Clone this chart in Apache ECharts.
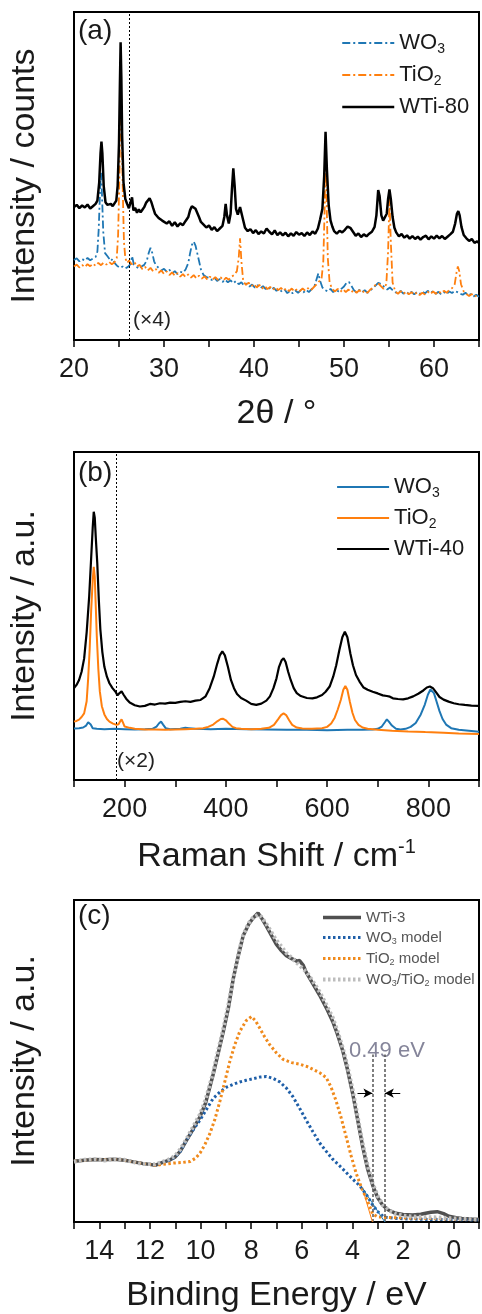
<!DOCTYPE html>
<html><head><meta charset="utf-8">
<script src="https://cdn.jsdelivr.net/npm/echarts@6/dist/echarts.min.js"></script>
<style>html,body{margin:0;padding:0;background:#fff}#c{width:482px;height:1314px}</style>
</head><body><div id="c"></div>
<script>
// ---------- Panel (a): XRD, 2θ (deg) vs intensity (a.u., offset) ----------
const xrdWTi80 = [[20.0,40.5],[20.3,41.2],[20.6,40.2],[20.9,41.0],[21.2,40.4],[21.5,41.3],[21.8,40.1],[22.1,40.8],[22.4,41.5],[22.6,42.5],[22.8,48],[22.95,57],[23.05,60.5],[23.15,57],[23.3,47],[23.5,42],[23.7,41.2],[23.9,40.6],[24.1,41.5],[24.3,40.8],[24.5,41.4],[24.7,42.5],[24.85,47],[25.0,60],[25.1,78],[25.18,90.8],[25.26,80],[25.35,62],[25.5,48],[25.7,43],[25.9,41.5],[26.1,40.2],[26.3,39.8],[26.45,43.5],[26.6,39.5],[26.8,40.3],[27.0,38.8],[27.2,39.8],[27.4,38.9],[27.6,39.7],[27.8,40.5],[28.0,41.8],[28.2,42.2],[28.4,43.2],[28.6,42.0],[28.8,40.2],[29.0,38.5],[29.2,38.9],[29.4,37.2],[29.6,37.8],[29.8,36.4],[30.0,36.9],[30.3,35.5],[30.6,36.2],[30.9,34.8],[31.2,35.9],[31.5,34.6],[31.8,35.6],[32.1,35.0],[32.4,36.3],[32.7,37.5],[32.9,39.6],[33.1,40.8],[33.3,41.2],[33.5,40.0],[33.7,39.5],[33.9,37.4],[34.1,36.0],[34.4,35.2],[34.7,34.3],[35.0,34.9],[35.3,33.6],[35.6,34.4],[35.9,33.2],[36.2,34.0],[36.5,34.8],[36.7,37.5],[36.85,41.5],[37.0,38],[37.2,35.5],[37.4,38.5],[37.55,46],[37.7,52.3],[37.85,47],[38.0,40],[38.2,38.2],[38.45,40.5],[38.6,40.2],[38.8,36.5],[39.0,34.2],[39.3,33.2],[39.6,33.8],[39.9,32.6],[40.2,33.5],[40.5,32.3],[40.8,33.1],[41.1,32.5],[41.4,34.0],[41.7,33.0],[42.0,32.2],[42.3,33.4],[42.6,32.0],[42.9,32.8],[43.2,31.9],[43.5,32.7],[43.8,31.6],[44.1,32.5],[44.4,31.8],[44.7,32.9],[45.0,32.1],[45.3,32.6],[45.6,31.7],[45.9,32.8],[46.2,32.0],[46.5,33.1],[46.8,32.4],[47.1,34.0],[47.35,36.8],[47.6,40],[47.8,50],[47.95,63.5],[48.1,52],[48.3,41],[48.5,36.5],[48.7,34.6],[48.9,33.2],[49.2,32.4],[49.5,33.3],[49.8,32.8],[50.1,33.6],[50.4,34.6],[50.7,34.2],[51.0,33.0],[51.3,31.8],[51.6,32.5],[51.9,31.4],[52.2,32.2],[52.5,31.6],[52.8,32.4],[53.1,33.0],[53.4,34.5],[53.6,38],[53.8,45.7],[53.95,44],[54.15,38],[54.35,36.4],[54.55,36.0],[54.75,38.5],[54.9,43],[55.05,45.9],[55.2,43],[55.4,37.5],[55.6,34.2],[55.8,32.8],[56.1,31.6],[56.4,32.3],[56.7,31.2],[57.0,31.9],[57.3,30.9],[57.6,31.7],[57.9,30.8],[58.2,31.5],[58.5,30.6],[58.8,31.4],[59.1,31.8],[59.4,30.7],[59.7,31.6],[60.0,30.9],[60.3,31.8],[60.6,31.0],[60.9,31.7],[61.2,30.8],[61.5,31.5],[61.8,32.2],[62.1,33.0],[62.35,35.5],[62.55,38.5],[62.7,39.3],[62.85,38.0],[63.05,34.5],[63.3,32.0],[63.6,31.0],[63.9,30.2],[64.2,30.8],[64.5,29.6],[64.8,30.1],[65.0,29.5]];
const xrdWO3 = [[20.0,24.4],[20.3,24.9],[20.6,24.0],[20.9,24.7],[21.2,24.2],[21.5,25.0],[21.8,24.3],[22.1,24.8],[22.4,25.3],[22.6,27],[22.75,34],[22.9,46],[23.0,51],[23.1,45],[23.25,33],[23.45,26.5],[23.7,25.6],[23.9,25.0],[24.1,24.1],[24.3,24.8],[24.5,23.5],[24.8,22.6],[25.1,22.0],[25.4,22.4],[25.7,21.8],[26.0,22.3],[26.3,23.2],[26.45,25.6],[26.65,23.0],[26.9,22.5],[27.2,21.7],[27.5,22.4],[27.8,22.9],[28.1,24.3],[28.3,26.5],[28.5,28.1],[28.7,26.5],[28.9,24.0],[29.1,22.8],[29.4,22.0],[29.7,21.2],[30.0,21.7],[30.3,20.8],[30.6,21.4],[30.9,20.3],[31.2,21.0],[31.5,20.1],[31.8,20.8],[32.1,20.5],[32.4,21.5],[32.7,23.5],[32.9,26.5],[33.1,29.0],[33.3,30.0],[33.5,28.8],[33.7,26.4],[33.9,24.0],[34.1,21.5],[34.4,19.8],[34.7,19.2],[35.0,19.0],[35.3,18.3],[35.6,19.0],[35.9,18.0],[36.2,18.6],[36.5,17.7],[36.8,18.4],[37.1,17.6],[37.4,18.2],[37.7,17.3],[38.0,18.0],[38.3,17.0],[38.6,17.6],[38.9,16.6],[39.2,17.2],[39.5,16.3],[39.8,16.9],[40.1,16.0],[40.4,16.7],[40.7,15.8],[41.0,16.4],[41.3,15.5],[41.6,16.2],[41.9,15.3],[42.2,15.9],[42.5,15.0],[42.8,15.6],[43.1,14.7],[43.4,15.4],[43.7,14.3],[44.0,15.0],[44.3,14.2],[44.6,15.1],[44.9,14.4],[45.2,15.2],[45.5,14.5],[45.8,15.3],[46.1,14.6],[46.4,15.5],[46.7,16.2],[46.95,18.5],[47.15,20.3],[47.35,18.0],[47.6,16.0],[47.9,15.2],[48.2,14.8],[48.5,15.6],[48.8,14.6],[49.1,15.4],[49.4,14.8],[49.7,15.6],[50.0,16.3],[50.3,17.5],[50.55,17.7],[50.8,16.6],[51.1,15.2],[51.4,14.5],[51.7,15.3],[52.0,14.6],[52.3,15.2],[52.6,14.4],[52.9,15.1],[53.2,15.8],[53.5,16.6],[53.8,17.4],[54.0,17.9],[54.2,17.0],[54.5,16.0],[54.8,15.4],[55.1,16.0],[55.4,15.2],[55.7,14.6],[56.0,14.2],[56.3,15.0],[56.6,14.1],[56.9,14.8],[57.2,14.0],[57.5,14.7],[57.8,13.9],[58.1,14.6],[58.4,14.0],[58.7,14.8],[59.0,14.2],[59.3,15.0],[59.6,14.3],[59.9,14.9],[60.2,14.1],[60.5,14.7],[60.8,13.9],[61.1,14.6],[61.4,14.0],[61.7,14.8],[62.0,14.3],[62.3,15.0],[62.6,14.6],[62.9,14.1],[63.2,13.8],[63.5,14.4],[63.8,13.6],[64.1,14.0],[64.4,13.3],[64.7,13.8],[65.0,13.2]];
const xrdTiO2 = [[20.0,22.4],[20.3,23.0],[20.6,22.1],[20.9,22.9],[21.2,22.2],[21.5,23.1],[21.8,22.5],[22.1,23.3],[22.4,22.6],[22.7,23.5],[23.0,22.8],[23.3,23.6],[23.6,23.0],[23.9,23.8],[24.2,23.1],[24.5,23.7],[24.75,25],[24.9,32],[25.05,50],[25.15,68],[25.22,76],[25.3,66],[25.4,48],[25.55,30],[25.7,25],[25.9,23.5],[26.1,24.2],[26.4,23.1],[26.7,23.8],[27.0,22.4],[27.3,22.9],[27.6,21.6],[27.9,22.3],[28.2,21.2],[28.5,22.0],[28.8,20.9],[29.1,21.6],[29.4,20.5],[29.7,21.2],[30.0,20.1],[30.3,20.9],[30.6,19.8],[30.9,20.6],[31.2,19.6],[31.5,20.4],[31.8,19.3],[32.1,20.1],[32.4,19.2],[32.7,20.0],[33.0,19.0],[33.3,19.8],[33.6,18.8],[33.9,19.6],[34.2,18.7],[34.5,19.4],[34.8,18.5],[35.1,19.3],[35.4,18.4],[35.7,19.2],[36.0,18.3],[36.3,19.1],[36.6,18.2],[36.9,19.0],[37.2,18.4],[37.5,19.3],[37.8,19.8],[38.1,21.0],[38.3,25],[38.45,31],[38.6,24],[38.8,18.0],[39.1,16.8],[39.4,17.5],[39.7,16.4],[40.0,17.1],[40.3,16.0],[40.6,16.8],[40.9,15.7],[41.2,16.5],[41.5,15.5],[41.8,16.2],[42.1,15.3],[42.4,16.1],[42.7,15.2],[43.0,15.9],[43.3,15.0],[43.6,15.8],[43.9,14.9],[44.2,15.7],[44.5,14.8],[44.8,15.6],[45.1,14.9],[45.4,15.7],[45.7,15.0],[46.0,15.8],[46.3,15.1],[46.6,16.0],[46.9,16.8],[47.2,17.8],[47.5,18.5],[47.7,24],[47.85,40],[47.95,56],[48.05,45],[48.2,25],[48.4,17.5],[48.7,15.5],[49.0,14.8],[49.3,15.6],[49.6,14.7],[49.9,15.5],[50.2,14.6],[50.5,15.4],[50.8,14.5],[51.1,15.3],[51.4,14.4],[51.7,15.2],[52.0,14.3],[52.3,15.1],[52.6,14.4],[52.9,15.3],[53.2,15.9],[53.5,16.8],[53.8,17.3],[54.1,16.4],[54.4,15.6],[54.7,17.0],[54.9,27],[55.05,43],[55.2,30],[55.4,17.5],[55.7,14.8],[56.0,14.1],[56.3,14.9],[56.6,14.0],[56.9,14.8],[57.2,13.9],[57.5,14.6],[57.8,13.8],[58.1,14.5],[58.4,13.7],[58.7,14.4],[59.0,13.9],[59.3,14.7],[59.6,14.0],[59.9,14.8],[60.2,14.1],[60.5,14.9],[60.8,14.2],[61.1,15.0],[61.4,14.4],[61.7,15.3],[62.0,15.8],[62.3,17.0],[62.5,20.5],[62.65,22.4],[62.8,21],[63.0,17],[63.3,14.8],[63.6,14.0],[63.9,13.4],[64.2,14.0],[64.5,13.2],[64.8,13.7],[65.0,13.4]];
const xrdDivider = 26.15;   // (×4) boundary

// ---------- Panel (b): Raman shift (cm-1) ----------
const ramanWTi40 = [[100,28.0],[105,29.0],[110,30.5],[115,33],[120,37],[125,45],[130,56],[134,68],[137,77],[139,81.8],[141,80],[143,74],[146,66],[149,55],[152,46],[156,39],[160,34.5],[165,31.5],[170,29.5],[176,28],[182,26.9],[186,25.8],[190,26.5],[194,27.0],[198,26],[203,24.8],[210,23.6],[220,22.8],[230,22.4],[240,22.6],[250,23.2],[260,23.0],[270,23.4],[280,23.3],[290,23.6],[300,23.5],[310,23.8],[320,24.0],[330,23.8],[340,24.2],[350,24.4],[360,25.5],[368,28],[376,31.5],[383,35.5],[388,38],[393,39.2],[398,38],[404,34.5],[410,30.5],[416,28],[422,26.2],[430,25],[440,24.2],[450,23.2],[460,22.9],[470,23.3],[480,24.2],[487,25.5],[494,28],[500,31],[505,34.5],[510,36.5],[514,37.1],[518,36],[523,33],[528,30.5],[534,28],[540,26.5],[548,25.6],[560,25.0],[571,24.9],[580,25.2],[590,25.9],[597,26.9],[605,28.5],[612,31.5],[618,35],[624,39.5],[630,43.5],[635,45.2],[640,43.5],[646,38.5],[651,35],[657,32],[664,30],[672,28.2],[680,27.5],[690,26.9],[700,26.4],[710,25.8],[718,25.6],[724,25.4],[730,24.9],[740,24.7],[750,24.6],[760,24.9],[770,25.5],[780,26.3],[790,27.3],[797,28.2],[803,28.5],[809,28.0],[815,26.8],[822,25.3],[830,24.5],[840,23.9],[850,23.4],[860,23.1],[872,22.9],[885,22.7],[900,22.6]];
const ramanTiO2 = [[100,17.8],[105,18.0],[110,18.4],[115,19.2],[120,20.3],[125,24],[128,31],[131,40],[134,52],[137,61],[139,65],[141,62],[143,53],[145,44],[148,34],[151,27],[155,22.5],[160,20],[165,18.6],[170,17.8],[177,17.2],[184,16.8],[188,17.0],[191,17.8],[194,18.5],[197,17.4],[200,16.3],[210,15.9],[220,15.6],[240,15.4],[260,15.4],[280,15.3],[300,15.4],[320,15.5],[340,15.6],[355,15.8],[365,16.2],[375,16.9],[383,17.9],[390,18.6],[394,18.7],[400,18.2],[406,17.2],[413,16.2],[420,15.8],[430,15.6],[450,15.5],[470,15.6],[485,15.9],[495,16.8],[503,18.5],[509,19.8],[514,20.3],[519,19.8],[525,18.2],[531,16.8],[540,16.0],[551,15.7],[570,15.6],[590,15.8],[600,16.2],[608,17.2],[615,19],[621,21.5],[627,24.4],[632,27.5],[636,28.7],[640,27.5],[645,23.8],[650,20.5],[655,18.3],[662,16.8],[670,16.0],[680,15.6],[700,15.3],[728,15.0],[760,14.8],[794,14.6],[830,14.4],[860,14.2],[900,14.0]];
const ramanWO3 = [[100,15.7],[110,15.8],[118,16.0],[124,16.6],[128,17.6],[130,17.8],[133,16.9],[137,15.8],[145,15.6],[160,15.5],[180,15.6],[200,15.5],[220,15.4],[240,15.5],[255,15.6],[263,16.3],[268,17.3],[272,17.8],[276,16.9],[281,15.8],[290,15.5],[310,15.6],[320,15.9],[323,16.2],[327,15.8],[340,15.6],[370,15.5],[400,15.6],[440,15.5],[480,15.4],[520,15.3],[560,15.3],[600,15.2],[640,15.3],[670,15.3],[690,15.4],[700,15.6],[708,16.3],[714,17.6],[718,18.5],[722,17.8],[728,16.6],[736,15.6],[745,15.4],[755,15.6],[765,16.2],[775,17.4],[785,20.0],[793,23.0],[799,26.0],[804,27.6],[807,27.9],[811,26.5],[816,24.0],[822,21.0],[828,18.6],[835,16.9],[845,15.8],[860,15.3],[880,15.0],[900,14.7]];
const ramanDivider = 183;   // (×2) boundary

// ---------- Panel (c): valence band XPS, binding energy (eV) ----------
const vbWTi3 = [[15.0,18.9],[14.6,19.2],[14.2,19.4],[13.8,19.3],[13.4,19.5],[13.0,19.2],[12.6,18.6],[12.3,18.2],[12.0,17.9],[11.8,17.6],[11.5,18.5],[11.2,19.3],[11.0,20.2],[10.8,22.0],[10.54,25.6],[10.3,28.8],[10.02,32.7],[9.8,37.0],[9.5,45.9],[9.3,52.5],[9.1,59.2],[8.9,66.5],[8.71,75.5],[8.5,83.0],[8.32,88.8],[8.1,92.5],[7.92,94.4],[7.73,96.0],[7.6,94.5],[7.4,91.9],[7.2,89.0],[7.01,86.3],[6.8,84.2],[6.61,82.7],[6.4,81.8],[6.2,81.0],[6.09,81.2],[5.95,79.8],[5.83,77.6],[5.6,74.5],[5.3,70.5],[5.0,66.0],[4.78,62.3],[4.6,58.5],[4.38,53.1],[4.2,47.5],[3.99,39.9],[3.8,32.0],[3.6,23.6],[3.4,16.5],[3.2,11.4],[3.0,7.5],[2.81,5.3],[2.6,3.8],[2.29,2.7],[2.0,2.3],[1.63,2.2],[1.3,2.4],[1.11,2.7],[0.9,3.0],[0.65,3.2],[0.4,2.6],[0.19,1.8],[-0.1,1.3],[-0.33,1.1],[-0.7,0.9],[-1.0,0.8]];
const vbWO3Model = [[15.0,18.9],[14.6,19.2],[14.2,19.4],[13.8,19.3],[13.4,19.5],[13.0,19.2],[12.6,18.6],[12.3,18.2],[12.0,17.9],[11.8,17.6],[11.5,18.5],[11.2,19.3],[11.0,20.2],[10.8,22.0],[10.54,25.6],[10.3,28.5],[10.02,31.7],[9.75,35.2],[9.5,38.4],[9.2,40.6],[8.97,41.9],[8.7,42.8],[8.45,43.5],[8.2,44.0],[7.92,44.5],[7.66,45.0],[7.4,45.2],[7.13,44.6],[6.87,43.5],[6.6,41.5],[6.35,38.9],[6.1,35.5],[5.83,31.7],[5.56,28.0],[5.3,24.6],[5.04,22.0],[4.78,19.5],[4.5,17.4],[4.25,15.4],[4.0,13.4],[3.73,11.4],[3.45,8.5],[3.2,5.3],[3.0,3.2],[2.75,1.5],[2.4,1.2],[2.0,1.0],[1.5,0.9],[1.0,0.8],[0.5,0.8],[0.0,0.7],[-0.5,0.7],[-1.0,0.6]];
const vbTiO2Model = [[15.0,18.9],[14.6,19.2],[14.2,19.4],[13.8,19.3],[13.4,19.5],[13.0,19.2],[12.6,18.6],[12.3,18.2],[12.0,17.9],[11.8,17.6],[11.5,17.9],[11.07,18.3],[10.7,18.5],[10.41,18.8],[10.2,19.8],[10.02,21.4],[9.83,24.0],[9.63,27.5],[9.43,32.0],[9.23,37.7],[9.03,44.0],[8.84,50.0],[8.65,55.0],[8.45,59.2],[8.2,62.5],[7.99,63.8],[7.83,62.5],[7.66,60.2],[7.47,57.5],[7.27,55.1],[7.0,52.5],[6.74,50.5],[6.4,49.5],[6.09,49.0],[5.8,48.3],[5.56,47.4],[5.3,46.4],[5.04,44.9],[4.85,42.0],[4.65,37.7],[4.45,32.5],[4.25,26.5],[4.05,20.5],[3.86,15.3],[3.66,11.0],[3.47,7.7],[3.3,4.5],[3.2,2.5],[3.0,1.6],[2.6,1.4],[2.2,1.3],[1.8,1.2],[1.4,1.2],[1.0,1.1],[0.6,1.0],[0.2,0.9],[-0.3,0.8],[-1.0,0.7]];
const vbMixModel = [[15.0,18.7],[14.6,19.3],[14.2,19.5],[13.8,19.1],[13.4,19.6],[13.0,19.3],[12.6,18.5],[12.3,18.0],[12.0,18.0],[11.8,17.9],[11.5,18.7],[11.2,19.6],[11.0,20.6],[10.8,22.6],[10.54,26.0],[10.3,29.5],[10.02,33.5],[9.8,38.0],[9.5,46.5],[9.3,53.5],[9.1,60.0],[8.9,67.5],[8.71,76.0],[8.5,83.5],[8.32,89.0],[8.1,92.8],[7.92,94.6],[7.73,95.4],[7.6,94.8],[7.4,92.5],[7.2,90.0],[7.01,87.5],[6.8,85.5],[6.61,83.5],[6.4,82.0],[6.2,80.5],[6.0,79.0],[5.8,77.5],[5.6,75.2],[5.3,71.5],[5.0,67.0],[4.78,63.5],[4.6,59.5],[4.38,54.0],[4.2,48.5],[3.99,41.0],[3.8,33.0],[3.6,24.5],[3.4,17.5],[3.2,12.0],[3.0,8.0],[2.81,5.5],[2.6,3.8],[2.29,2.5],[2.0,2.0],[1.63,1.7],[1.3,1.6],[1.0,1.5],[0.6,1.4],[0.2,1.2],[-0.3,1.0],[-1.0,0.8]];
const vbWO3Onset = [[3.6,10.5],[2.72,0]];
const vbTiO2Onset = [[3.55,9.0],[3.21,0]];
const vbOnsetWO3 = 2.72, vbOnsetTiO2 = 3.21, vbGapLabel = '0.49 eV';
const vbArrowY = 40, vbGuideTop = 52;

// ---------- Tick labels ----------
const ticksA = [20, 30, 40, 50, 60];
const ticksB = [200, 400, 600, 800];
const ticksC = [14, 12, 10, 8, 6, 4, 2, 0];

const FONT = '"Liberation Sans", Arial, sans-serif';
const BLUE = '#1f77b4', ORANGE = '#ff7f0e';
const legendText = {
  a_wo3: 'WO{s|3}', a_tio2: 'TiO{s|2}', a_wti: 'WTi-80',
  b_wo3: 'WO{s|3}', b_tio2: 'TiO{s|2}', b_wti: 'WTi-40',
  c_wti: 'WTi-3', c_wo3: 'WO{s|3} model', c_tio2: 'TiO{s|2} model', c_mix: 'WO{s|3}/TiO{s|2} model'
};

const chart = echarts.init(document.getElementById('c'), null, {renderer: 'canvas'});

const grids = [
  {left: 73, top: 12, width: 407, height: 328},
  {left: 73, top: 452, width: 407, height: 328},
  {left: 73, top: 900, width: 407, height: 327}
].map(g => Object.assign({show: true, borderColor: '#000', borderWidth: 2, backgroundColor: 'transparent'}, g));

function xAx(idx, min, max, interval, shown, name, gap, extra) {
  return Object.assign({
    type: 'value', gridIndex: idx, min, max, interval,
    axisLine: {show: true, onZero: false, lineStyle: {color: '#000', width: 2}},
    axisTick: {show: true, inside: false, length: 7, lineStyle: {color: '#000', width: 1.5}},
    splitLine: {show: false},
    axisLabel: {fontFamily: FONT, fontSize: 27, color: '#1a1a1a', margin: 16,
      formatter: v => shown.indexOf(v) >= 0 ? String(v) : ''},
    name, nameLocation: 'middle', nameGap: gap,
    nameTextStyle: {fontFamily: FONT, fontSize: 34, color: '#1a1a1a',
      rich: {sup: {fontFamily: FONT, fontSize: 20, color: '#1a1a1a', padding: [0, 0, 20, 0]}}}
  }, extra || {});
}
function yAx(idx, name) {
  return {
    type: 'value', gridIndex: idx, min: 0, max: 100,
    axisLine: {show: false}, axisTick: {show: false}, axisLabel: {show: false}, splitLine: {show: false},
    name, nameLocation: 'middle', nameGap: 32, nameRotate: 90,
    nameTextStyle: {fontFamily: FONT, fontSize: 34, color: '#1a1a1a'}
  };
}

const dashDot = [8, 3, 2, 3];
const divider = (x) => ({silent: true, symbol: 'none', label: {show: false},
  lineStyle: {type: [2, 2], color: '#000', width: 1}, data: [{xAxis: x}]});

function legend(top, left, names, fs, itemW, gap, color, subPad) {
  return {
    orient: 'vertical', top, left, itemWidth: itemW, itemHeight: 12, itemGap: gap,
    selectedMode: false, data: names,
    itemStyle: {opacity: 0, borderWidth: 0},
    lineStyle: {width: 'inherit'},
    formatter: n => legendText[n],
    textStyle: {fontFamily: FONT, fontSize: fs, color,
      rich: {s: {fontFamily: FONT, fontSize: Math.round(fs * 0.62), color, padding: [subPad, 0, 0, 0]}}}
  };
}

const option = {
  animation: false,
  backgroundColor: '#fff',
  grid: grids,
  xAxis: [
    xAx(0, 20, 65, 5, ticksA, '2θ / °', 57),
    xAx(1, 100, 900, 100, ticksB, 'Raman Shift / cm{sup|-1}', 57),
    xAx(2, -1, 15, 1, ticksC, 'Binding Energy / eV', 57, {inverse: true})
  ],
  yAxis: [yAx(0, 'Intensity / counts'), yAx(1, 'Intensity / a.u.'), yAx(2, 'Intensity / a.u.')],
  legend: [
    legend(27, 336, ['a_wo3', 'a_tio2', 'a_wti'], 22, 52, 8, '#1a1a1a', 12),
    legend(471, 331, ['b_wo3', 'b_tio2', 'b_wti'], 22, 52, 7, '#1a1a1a', 12),
    legend(905, 316, ['c_wti', 'c_wo3', 'c_tio2', 'c_mix'], 15, 38, 5, '#555', 8)
  ],
  series: [
    {name: 'a_wo3', type: 'line', xAxisIndex: 0, yAxisIndex: 0, data: xrdWO3, symbol: 'none',
      lineStyle: {color: BLUE, width: 1.8, type: dashDot}, itemStyle: {color: BLUE}, z: 2},
    {name: 'a_tio2', type: 'line', xAxisIndex: 0, yAxisIndex: 0, data: xrdTiO2, symbol: 'none',
      lineStyle: {color: ORANGE, width: 1.8, type: dashDot}, itemStyle: {color: ORANGE}, z: 3},
    {name: 'a_wti', type: 'line', xAxisIndex: 0, yAxisIndex: 0, data: xrdWTi80, symbol: 'none',
      lineStyle: {color: '#000', width: 2.5}, itemStyle: {color: '#000'}, z: 4, markLine: divider(xrdDivider)},

    {name: 'b_wo3', type: 'line', xAxisIndex: 1, yAxisIndex: 1, data: ramanWO3, symbol: 'none',
      lineStyle: {color: BLUE, width: 2}, itemStyle: {color: BLUE}, z: 2},
    {name: 'b_tio2', type: 'line', xAxisIndex: 1, yAxisIndex: 1, data: ramanTiO2, symbol: 'none',
      lineStyle: {color: ORANGE, width: 2}, itemStyle: {color: ORANGE}, z: 3},
    {name: 'b_wti', type: 'line', xAxisIndex: 1, yAxisIndex: 1, data: ramanWTi40, symbol: 'none',
      lineStyle: {color: '#000', width: 2.2}, itemStyle: {color: '#000'}, z: 4, markLine: divider(ramanDivider)},

    {name: 'c_wti', type: 'line', xAxisIndex: 2, yAxisIndex: 2, data: vbWTi3, symbol: 'none',
      lineStyle: {color: '#505050', width: 3.5}, itemStyle: {color: '#505050'}, z: 2,
      markLine: {silent: true, symbol: 'none', label: {show: false},
        lineStyle: {type: [3, 2], color: '#555', width: 1.5},
        data: [
          [{coord: [vbOnsetTiO2, 0]}, {coord: [vbOnsetTiO2, vbGuideTop]}],
          [{coord: [vbOnsetWO3, 0]}, {coord: [vbOnsetWO3, vbGuideTop]}]
        ]}},
    {name: 'c_wo3', type: 'line', xAxisIndex: 2, yAxisIndex: 2, data: vbWO3Model, symbol: 'none',
      lineStyle: {color: '#1f5fa8', width: 3, type: [2.5, 2.5]}, itemStyle: {color: '#1f5fa8'}, z: 3},
    {name: 'c_tio2', type: 'line', xAxisIndex: 2, yAxisIndex: 2, data: vbTiO2Model, symbol: 'none',
      lineStyle: {color: '#f08a1c', width: 3, type: [2.5, 2.5]}, itemStyle: {color: '#f08a1c'}, z: 3},
    {name: 'c_mix', type: 'line', xAxisIndex: 2, yAxisIndex: 2, data: vbMixModel, symbol: 'none',
      lineStyle: {color: '#bdbdbd', width: 4, type: [2.5, 2.5]}, itemStyle: {color: '#bdbdbd'}, z: 4,
      markLine: {silent: true, symbol: ['none', 'arrow'], symbolSize: [7, 9], label: {show: false},
        lineStyle: {type: 'solid', color: '#000', width: 1},
        data: [
          [{coord: [vbOnsetTiO2 + 0.59, vbArrowY]}, {coord: [vbOnsetTiO2, vbArrowY]}],
          [{coord: [vbOnsetWO3 - 0.61, vbArrowY]}, {coord: [vbOnsetWO3, vbArrowY]}]
        ]}},
    {name: 'onsetW', type: 'line', xAxisIndex: 2, yAxisIndex: 2, data: vbWO3Onset, symbol: 'none',
      lineStyle: {color: BLUE, width: 1}, z: 5, legendHoverLink: false},
    {name: 'onsetT', type: 'line', xAxisIndex: 2, yAxisIndex: 2, data: vbTiO2Onset, symbol: 'none',
      lineStyle: {color: ORANGE, width: 1}, z: 5, legendHoverLink: false}
  ],
  graphic: [
    {type: 'text', left: 78, top: 17, style: {text: '(a)', font: '28px ' + FONT, fill: '#1a1a1a'}},
    {type: 'text', left: 78, top: 459, style: {text: '(b)', font: '28px ' + FONT, fill: '#1a1a1a'}},
    {type: 'text', left: 78, top: 902, style: {text: '(c)', font: '28px ' + FONT, fill: '#1a1a1a'}},
    {type: 'text', left: 133, top: 310, style: {text: '(×4)', font: '21px ' + FONT, fill: '#222'}},
    {type: 'text', left: 117, top: 751, style: {text: '(×2)', font: '21px ' + FONT, fill: '#222'}},
    {type: 'text', left: 349, top: 1040, style: {text: vbGapLabel, font: '22px ' + FONT, fill: '#85859a'}}
  ]
};
chart.setOption(option);
</script></body></html>
